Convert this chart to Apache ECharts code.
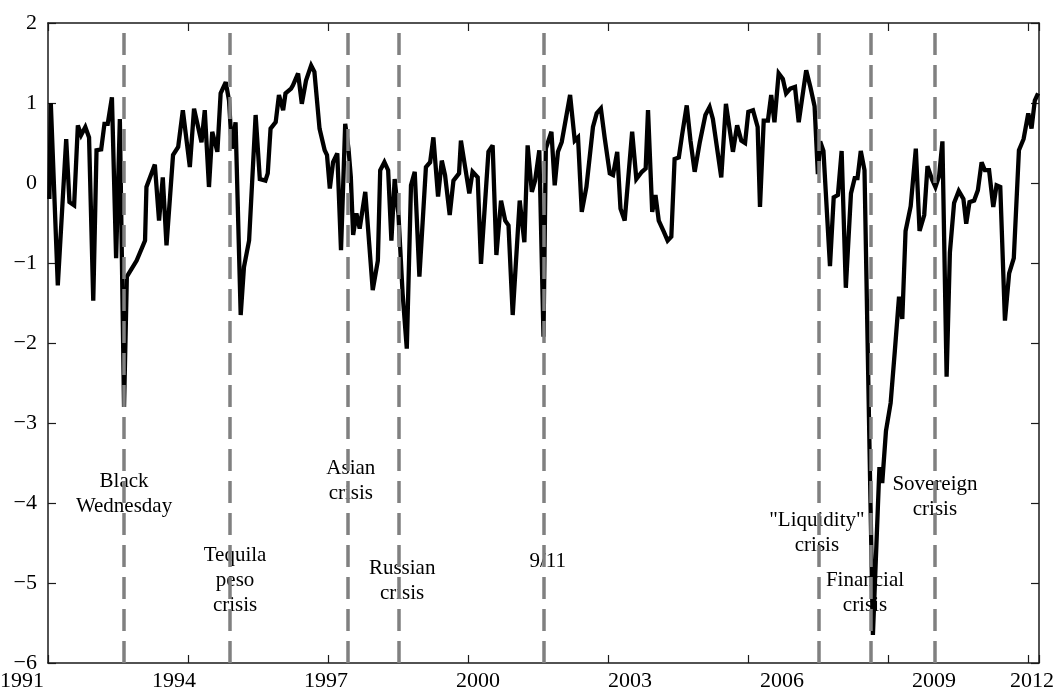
<!DOCTYPE html>
<html>
<head>
<meta charset="utf-8">
<script src="https://cdn.jsdelivr.net/npm/echarts@6/dist/echarts.min.js"></script>
<style>
  html, body { margin: 0; padding: 0; background: #fff; }
  #main { width: 1055px; height: 698px; }
</style>
</head>
<body>
<div id="main"></div>
<script>
var obsDates = [
  1991.03, 1991.06, 1991.21, 1991.39, 1991.46, 1991.56, 1991.64, 1991.71, 1991.80, 1991.88,
  1991.97, 1992.04, 1992.14, 1992.21, 1992.28, 1992.37, 1992.46, 1992.54, 1992.63, 1992.69,
  1992.90, 1993.08, 1993.11, 1993.29, 1993.38, 1993.46, 1993.54, 1993.68, 1993.79, 1993.89,
  1994.04, 1994.13, 1994.29, 1994.36, 1994.45, 1994.52, 1994.63, 1994.70, 1994.81, 1994.88,
  1994.94, 1995.02, 1995.13, 1995.20, 1995.31, 1995.45, 1995.54, 1995.66, 1995.71, 1995.77,
  1995.88, 1995.95, 1996.04, 1996.09, 1996.21, 1996.25, 1996.36, 1996.44, 1996.53, 1996.64,
  1996.71, 1996.82, 1996.93, 1996.98, 1997.04, 1997.11, 1997.20, 1997.28, 1997.37, 1997.44,
  1997.49, 1997.54, 1997.61, 1997.68, 1997.80, 1997.96, 1998.07, 1998.12, 1998.21, 1998.29,
  1998.36, 1998.43, 1998.48, 1998.51, 1998.60, 1998.69, 1998.78, 1998.86, 1998.96, 1999.10,
  1999.19, 1999.26, 1999.36, 1999.44, 1999.51, 1999.61, 1999.69, 1999.81, 1999.85, 1999.94,
  2000.03, 2000.10, 2000.21, 2000.28, 2000.44, 2000.53, 2000.61, 2000.71, 2000.80, 2000.87,
  2000.96, 2001.11, 2001.21, 2001.28, 2001.37, 2001.44, 2001.53, 2001.62, 2001.67, 2001.79,
  2001.86, 2001.93, 2002.01, 2002.19, 2002.29, 2002.36, 2002.44, 2002.54, 2002.68, 2002.76,
  2002.85, 2002.93, 2003.04, 2003.11, 2003.20, 2003.27, 2003.36, 2003.52, 2003.61, 2003.73,
  2003.81, 2003.86, 2003.95, 2004.02, 2004.09, 2004.20, 2004.28, 2004.36, 2004.43, 2004.52,
  2004.59, 2004.69, 2004.77, 2004.86, 2004.97, 2005.09, 2005.18, 2005.25, 2005.43, 2005.53,
  2005.68, 2005.77, 2005.86, 2005.94, 2006.01, 2006.11, 2006.21, 2006.26, 2006.34, 2006.43,
  2006.50, 2006.57, 2006.66, 2006.75, 2006.82, 2006.91, 2007.01, 2007.09, 2007.25, 2007.34,
  2007.43, 2007.50, 2007.55, 2007.62, 2007.76, 2007.84, 2007.93, 2008.01, 2008.10, 2008.21,
  2008.29, 2008.35, 2008.42, 2008.50, 2008.68, 2008.82, 2008.88, 2008.96, 2009.06, 2009.15,
  2009.24, 2009.31, 2009.38, 2009.49, 2009.60, 2009.68, 2009.78, 2009.85, 2009.95, 2010.02,
  2010.10, 2010.17, 2010.26, 2010.33, 2010.42, 2010.52, 2010.62, 2010.68, 2010.75, 2010.85,
  2010.93, 2011.01, 2011.08, 2011.17, 2011.26, 2011.33, 2011.41, 2011.51, 2011.60, 2011.70,
  2011.81, 2011.91, 2012.01, 2012.08, 2012.15, 2012.22
];
var obsValues = [
  -0.20, 1.00, -1.28, 0.55, -0.24, -0.28, 0.72, 0.60, 0.70, 0.57,
  -1.47, 0.41, 0.42, 0.74, 0.74, 1.07, -0.94, 0.80, -2.80, -1.17,
  -0.97, -0.72, -0.05, 0.23, -0.47, 0.07, -0.78, 0.35, 0.45, 0.91,
  0.20, 0.93, 0.51, 0.91, -0.05, 0.64, 0.39, 1.12, 1.26, 1.03,
  0.43, 0.76, -1.65, -1.05, -0.72, 0.85, 0.05, 0.03, 0.12, 0.68,
  0.76, 1.10, 0.91, 1.12, 1.18, 1.22, 1.37, 0.99, 1.28, 1.47,
  1.39, 0.68, 0.41, 0.35, -0.07, 0.26, 0.37, -0.84, 0.74, 0.43,
  0.08, -0.65, -0.38, -0.57, -0.11, -1.34, -0.97, 0.16, 0.26, 0.16,
  -0.72, 0.05, -0.24, -0.38, -1.38, -2.07, -0.03, 0.14, -1.17, 0.20,
  0.26, 0.57, -0.17, 0.28, 0.10, -0.40, 0.03, 0.12, 0.53, 0.20,
  -0.13, 0.14, 0.07, -1.01, 0.39, 0.47, -0.90, -0.22, -0.47, -0.53,
  -1.65, -0.22, -0.74, 0.47, -0.11, 0.03, 0.41, -1.92, 0.43, 0.64,
  -0.03, 0.39, 0.51, 1.10, 0.53, 0.57, -0.36, -0.05, 0.70, 0.87,
  0.93, 0.57, 0.12, 0.10, 0.39, -0.32, -0.47, 0.64, 0.05, 0.14,
  0.18, 0.91, -0.36, -0.15, -0.47, -0.61, -0.72, -0.67, 0.30, 0.32,
  0.60, 0.97, 0.53, 0.14, 0.51, 0.85, 0.95, 0.80, 0.07, 0.99,
  0.39, 0.72, 0.53, 0.50, 0.89, 0.91, 0.70, -0.30, 0.78, 0.78,
  1.10, 0.76, 1.37, 1.30, 1.12, 1.18, 1.20, 0.76, 1.41, 1.20,
  0.96, 0.11, 0.52, 0.40, -1.04, -0.18, -0.15, 0.40, -1.31, -0.13,
  0.06, 0.06, 0.40, 0.16, -5.65, -3.55, -3.75, -3.10, -2.75, -2.10,
  -1.42, -1.70, -0.60, -0.29, 0.43, -0.60, -0.40, 0.21, 0.04, -0.05,
  0.09, 0.52, -2.42, -0.87, -0.25, -0.10, -0.20, -0.51, -0.24, -0.22,
  -0.09, 0.26, 0.16, 0.16, -0.30, -0.03, -0.05, -1.72, -1.13, -0.94,
  0.41, 0.55, 0.87, 0.68, 1.03, 1.12
];

// crisis events: date of the dashed line, and where the caption sits
var crisisNames = ['Black\nWednesday', 'Tequila\npeso\ncrisis', 'Asian\ncrisis', 'Russian\ncrisis',
                   '9/11', '"Liquidity"\ncrisis', 'Financial\ncrisis', 'Sovereign\ncrisis'];
var crisisDates = [1992.635, 1994.90, 1997.43, 1998.515, 2001.63, 2007.53, 2008.635, 2010.01];
var captionDates = [1992.63, 1995.01, 1997.49, 1998.59, 2001.71, 2007.48, 2008.51, 2010.01];
var captionLevels = [-3.89, -4.97, -3.72, -4.98, -4.73, -4.38, -5.12, -3.93];

// x tick labels as printed under the axis
var tickLabels = ['1991', '1994', '1997', '2000', '2003', '2006', '2009', '2012'];

var serif = '"Liberation Serif", "Times New Roman", serif';
var chart = echarts.init(document.getElementById('main'), null, { renderer: 'canvas' });

var lineData = obsDates.map(function (d, i) { return [d, obsValues[i]]; });
var captionData = crisisNames.map(function (n, i) {
  return { name: n, value: [captionDates[i], captionLevels[i]] };
});

var axisLine = { show: true, onZero: false, lineStyle: { color: '#1a1a1a', width: 1.5 } };
var tick = { show: true, inside: true, length: 8, lineStyle: { color: '#1a1a1a', width: 1.2 } };

// tick labels drawn under the axis (they are offset from the tick marks in the original)
var labelGraphics = tickLabels.map(function (s, i) {
  return {
    type: 'text',
    x: Math.min(22 + 152 * i, 1032),
    y: 681,
    silent: true,
    style: {
      text: s,
      textAlign: 'center',
      textVerticalAlign: 'middle',
      font: '22px ' + serif,
      fill: '#000'
    }
  };
});

var option = {
  animation: false,
  backgroundColor: '#fff',
  grid: { left: 48, right: 16, top: 23, bottom: 35 },
  graphic: labelGraphics,
  xAxis: [{
    type: 'value',
    min: 1991,
    max: 2012.24,
    interval: 3,
    axisLine: axisLine,
    axisTick: tick,
    axisLabel: { show: false },
    splitLine: { show: false }
  }, {
    type: 'value',
    position: 'top',
    min: 1991,
    max: 2012.24,
    interval: 3,
    axisLine: axisLine,
    axisTick: tick,
    axisLabel: { show: false },
    splitLine: { show: false }
  }],
  yAxis: [{
    type: 'value',
    min: -6,
    max: 2,
    interval: 1,
    axisLine: axisLine,
    axisTick: tick,
    axisLabel: {
      margin: 11,
      color: '#000',
      fontFamily: serif,
      fontSize: 22,
      formatter: function (v) { return v < 0 ? '\u2212' + (-v) : String(v); }
    },
    splitLine: { show: false }
  }, {
    type: 'value',
    position: 'right',
    min: -6,
    max: 2,
    interval: 1,
    axisLine: axisLine,
    axisTick: tick,
    axisLabel: { show: false },
    splitLine: { show: false }
  }],
  series: [{
    name: 'index',
    type: 'line',
    data: lineData,
    showSymbol: false,
    symbol: 'none',
    z: 2,
    lineStyle: { color: '#000', width: 4.3, join: 'miter', miterLimit: 3 }
  }, {
    name: 'crises',
    type: 'line',
    data: [],
    z: 3,
    markLine: {
      silent: true,
      symbol: ['none', 'none'],
      label: { show: false },
      lineStyle: { color: '#808080', width: 3.5, type: [22, 10] },
      data: crisisDates.map(function (d) { return { xAxis: d }; })
    }
  }, {
    name: 'captions',
    type: 'scatter',
    data: captionData,
    symbolSize: 0,
    z: 4,
    silent: true,
    itemStyle: { color: '#000', opacity: 1 },
    label: {
      show: true,
      position: 'inside',
      formatter: function (p) { return p.name; },
      color: '#000',
      opacity: 1,
      textBorderWidth: 0,
      fontFamily: serif,
      fontSize: 21,
      lineHeight: 25,
      align: 'center'
    }
  }]
};

chart.setOption(option);
</script>
</body>
</html>
